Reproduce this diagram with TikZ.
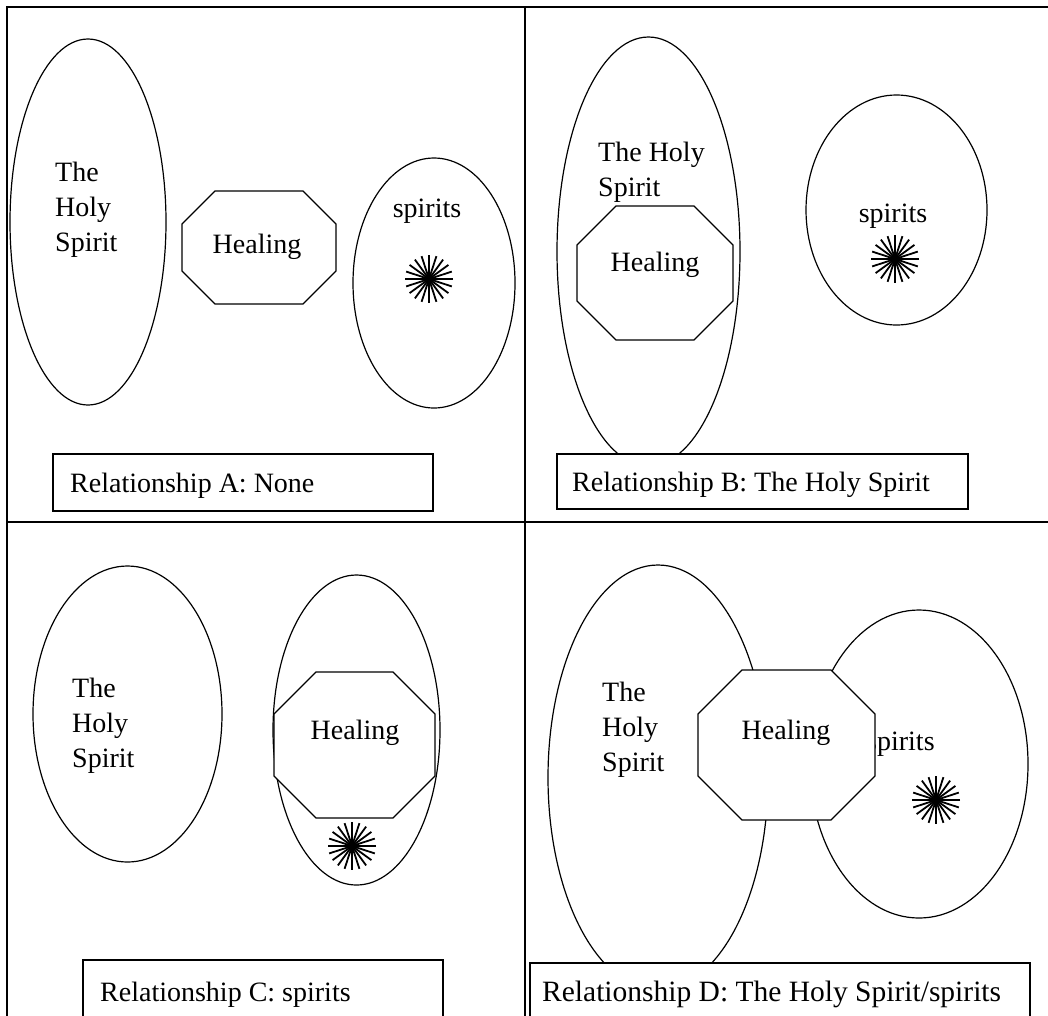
\documentclass[tikz,border=0pt]{standalone}
\usepackage{fontspec}
\setmainfont{Liberation Serif}
\newcommand{\octshape}[5]{\draw[shapeline, fill=white] ({#1+#5},#2) -- ({#3-#5},#2) -- (#3,{#2+#5}) -- (#3,{#4-#5}) -- ({#3-#5},#4) -- ({#1+#5},#4) -- (#1,{#4-#5}) -- (#1,{#2+#5}) -- cycle;}
\newcommand{\sburst}[1]{\foreach \a in {0,18,...,162}{\draw[ray] (#1) ++(\a:24pt) -- ++(\a+180:48pt);}}
\begin{document}
\begin{tikzpicture}[x=1pt,y=-1pt,
  frame/.style={line width=2pt},
  shapeline/.style={line width=1.2pt},
  labelbox/.style={line width=1.3pt, fill=white},
  txt/.style={inner sep=0pt, font=\fontsize{28}{35}\selectfont},
  ray/.style={line width=1.8pt}]
\clip (0,0) rectangle (1048,1015);
% frame
\draw[frame] (7,1030) -- (7,7) -- (1060,7);
\draw[frame] (525,7) -- (525,1030);
\draw[frame] (7,522) -- (1060,522);

% ---------- Panel A ----------
\draw[shapeline] (88,222) ellipse [x radius=78pt, y radius=183pt];
\node[txt, anchor=north west, align=left] (hsA) at (55,162) {The\\Holy\\Spirit};
\octshape{182}{191}{336}{304}{33}
\node[txt] (healA) at (257,247) {Healing};
\draw[shapeline] (434,283) ellipse [x radius=81pt, y radius=125pt];
\node[txt] (spA) at (427,211) {spirits};
\coordinate (starA) at (429,279);
\sburst{starA}
\draw[labelbox] (53,454) rectangle (433,511);
\node[txt, anchor=base west] (relA) at (70,492) {Relationship A: None};

% ---------- Panel B ----------
\draw[shapeline] (648.5,251.5) ellipse [x radius=91.5pt, y radius=214.5pt];
\node[txt, anchor=north west, align=left] (hsB) at (598,142) {The Holy\\Spirit};
\octshape{577}{206}{733}{340}{39}
\node[txt] (healB) at (655,265) {Healing};
\draw[shapeline] (896.5,210) ellipse [x radius=90.5pt, y radius=115pt];
\node[txt] (spB) at (893,216) {spirits};
\coordinate (starB) at (895,259);
\sburst{starB}
\draw[labelbox] (557,454) rectangle (968,509);
\node[txt, anchor=base west] (relB) at (572,491) {Relationship B: The Holy Spirit};

% ---------- Panel C ----------
\draw[shapeline] (127.5,714) ellipse [x radius=94.5pt, y radius=148pt];
\node[txt, anchor=north west, align=left] (hsC) at (72,678) {The\\Holy\\Spirit};
\draw[shapeline] (356.5,730) ellipse [x radius=83.5pt, y radius=155pt];
\octshape{274}{672}{435}{818}{42}
\node[txt] (healC) at (355,733) {Healing};
\coordinate (starC) at (352,846);
\sburst{starC}
\draw[labelbox] (83,960) rectangle (443,1030);
\node[txt, anchor=base west] (relC) at (100,1001) {Relationship C: spirits};

% ---------- Panel D ----------
\draw[shapeline] (658,777.5) ellipse [x radius=110pt, y radius=212.5pt];
\draw[shapeline] (919,764) ellipse [x radius=109pt, y radius=154pt];
\node[txt, anchor=base west] (spD) at (866,750) {spirits};
\octshape{698}{670}{875}{820}{44}
\node[txt] (healD) at (786,733) {Healing};
\node[txt, anchor=north west, align=left] (hsD) at (602,682) {The\\Holy\\Spirit};
\coordinate (starD) at (936,800);
\sburst{starD}
\draw[labelbox] (530,963) rectangle (1030,1030);
\node[txt, anchor=base west, font=\fontsize{29.5}{35}\selectfont] (relD) at (542,1001) {Relationship D: The Holy Spirit/spirits};
\end{tikzpicture}
\end{document}
